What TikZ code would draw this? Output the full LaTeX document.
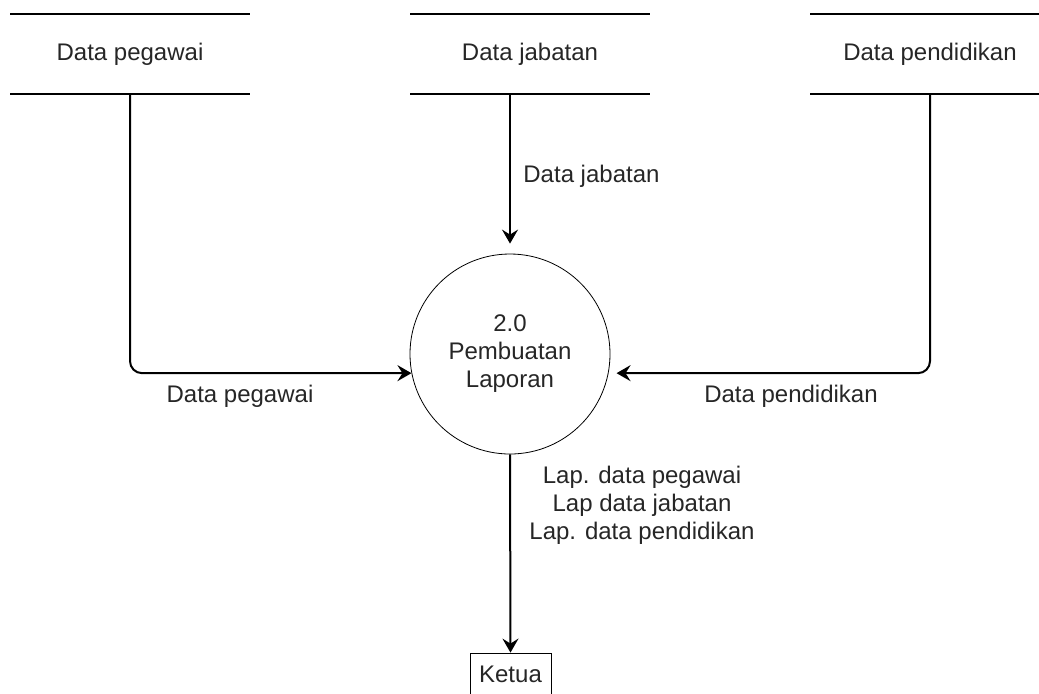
\documentclass[tikz,border=0pt]{standalone}
\usepackage{fontspec}
\setmainfont{Liberation Sans}
\usetikzlibrary{arrows.meta}

\tikzset{
		store/.style={
			minimum width=120pt, minimum height=40pt, inner sep=0pt, outer sep=0pt},
		proses/.style={
			circle, draw, minimum size=100pt, inner sep=0pt, align=center},
		entitas/.style={
			draw, minimum width=40.5pt, minimum height=21pt, inner sep=0pt},
		edge/.style={draw,line width=1pt,-,black},
		alir/.style={draw,line width=1pt,-{Stealth[length=7pt,width=8pt,inset=2.5pt]},black},
		lbl/.style={inner sep=0pt, align=center, text=black!85},
	}

\begin{document}
\begin{tikzpicture}[x=0.5pt, y=-0.5pt, font=\fontsize{12pt}{14pt}\selectfont, text=black!85]
			\useasboundingbox (0,0) rectangle (1039,693);
			\node[store] (sp) at (130,54) {Data pegawai};
			\node[store] (sj) at (530,54) {Data jabatan};
			\node[store] (sd) at (930,54) {Data pendidikan};
			\foreach \s in {sp,sj,sd}
				\draw[edge] (\s.north west) -- (\s.north east)
				(\s.south west) -- (\s.south east);
			\node[proses] (p2) at (510,354) {2.0\\Pembuatan\\Laporan};
			\node[entitas] (ketua) at (510.5,674) {Ketua};
			\draw[alir] (p2 |- sj.south) -- (p2.north) [shorten >=10pt/2];
			\draw[alir, rounded corners=6pt] (sp.south) |- (p2.191);
			\draw[alir, rounded corners=6pt, shorten >=4pt] (sd.south) |- (p2.-11);
			\draw[alir] (p2.south) -- (ketua.north);
			\node[lbl, anchor=west] (ljab) at (523,176) {Data jabatan};
			\node[lbl] (lpeg) at (240,396) {Data pegawai};
			\node[lbl] (lpen) at (791,396) {Data pendidikan};
			\node[lbl] (llap) at (642,505) {Lap. data pegawai\\Lap data jabatan\\Lap. data pendidikan};
			\end{tikzpicture}
\end{document}
